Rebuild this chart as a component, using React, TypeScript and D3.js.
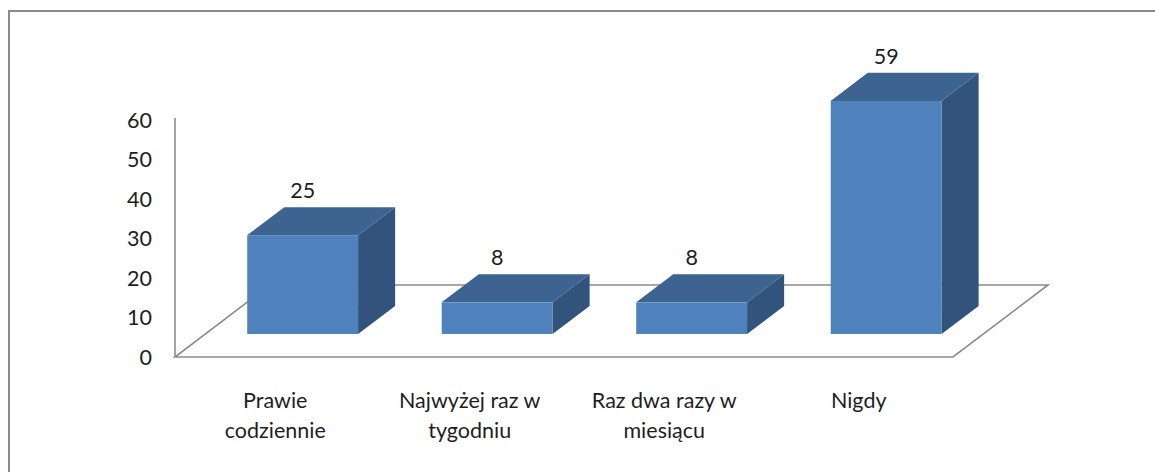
import React, { useEffect, useRef } from 'react';
import * as d3 from 'd3';

const categories = ['Prawie codziennie', 'Najwyżej raz w tygodniu', 'Raz dwa razy w miesiącu', 'Nigdy'];
const categoryLines = [['Prawie', 'codziennie'], ['Najwyżej raz w', 'tygodniu'], ['Raz dwa razy w', 'miesiącu'], ['Nigdy']];
const values = [25, 8, 8, 59];
const yTicks = [0, 10, 20, 30, 40, 50, 60];

const App: React.FC = () => {
    const chartRef = useRef<SVGSVGElement>(null);

    useEffect(() => {
        const width = 1155;
        const height = 472;
        const font = 'Lato, "Open Sans", sans-serif';
        const fontSize = 21.5;

        // floor geometry (front edge + depth offset)
        const x0 = 175;
        const x1 = 953;
        const floorY = 357;
        const depthX = 95;
        const depthY = -72;
        // bar sits between these depth fractions
        const dFront = 0.32;
        const dBack = 0.71;

        const svg = d3.select(chartRef.current);
        svg.selectAll('*').remove();
        svg.attr('width', width).attr('height', height);

        const x = d3.scaleBand<string>()
            .domain(categories)
            .range([x0, x1])
            .paddingInner(0.43)
            .paddingOuter(0.215);

        const y = d3.scaleLinear().domain([0, 60]).range([floorY, 120]);

        // outer frame
        svg.append('rect')
            .attr('x', 9).attr('y', 11)
            .attr('width', 1300).attr('height', 600)
            .attr('fill', 'white')
            .attr('stroke', '#8a8a8a')
            .attr('stroke-width', 2);

        // floor
        const floor = d3.path();
        floor.moveTo(x0, floorY);
        floor.lineTo(x1, floorY);
        floor.lineTo(x1 + depthX, floorY + depthY);
        floor.lineTo(x0 + depthX, floorY + depthY);
        floor.closePath();
        svg.append('path')
            .attr('d', floor.toString())
            .attr('fill', 'none')
            .attr('stroke', '#8c8c8c')
            .attr('stroke-width', 1.6);

        // vertical axis
        svg.append('line')
            .attr('x1', x0).attr('x2', x0)
            .attr('y1', y(0)).attr('y2', y(60) - 2)
            .attr('stroke', '#8c8c8c')
            .attr('stroke-width', 1.6);

        svg.append('g')
            .selectAll('text')
            .data(yTicks)
            .enter()
            .append('text')
            .attr('x', 152)
            .attr('y', d => y(d))
            .attr('dy', '0.35em')
            .attr('text-anchor', 'end')
            .attr('font-family', font)
            .attr('font-size', fontSize)
            .attr('fill', '#1e1e1e')
            .text(d => d);

        // bars
        const fx = dFront * depthX;
        const fy = dFront * depthY;
        const bx = (dBack - dFront) * depthX;
        const by = (dBack - dFront) * depthY;
        const bars = svg.append('g');

        categories.forEach((c, i) => {
            const left = (x(c) as number) + fx;
            const right = left + x.bandwidth();
            const bottom = y(0) + fy;
            const top = y(values[i]) + fy;

            const topFace = [[left, top], [left + bx, top + by], [right + bx, top + by], [right, top]];
            const sideFace = [[right, top], [right + bx, top + by], [right + bx, bottom + by], [right, bottom]];

            bars.append('polygon')
                .attr('points', sideFace.map(p => p.join(',')).join(' '))
                .attr('fill', '#32537b');
            bars.append('polygon')
                .attr('points', topFace.map(p => p.join(',')).join(' '))
                .attr('fill', '#3d6390');
            bars.append('rect')
                .attr('x', left).attr('y', top)
                .attr('width', x.bandwidth())
                .attr('height', bottom - top)
                .attr('fill', '#4f81bd');

            bars.append('text')
                .attr('x', left + x.bandwidth() / 2)
                .attr('y', top + by - 9)
                .attr('text-anchor', 'middle')
                .attr('font-family', font)
                .attr('font-size', fontSize)
                .attr('fill', '#1e1e1e')
                .text(values[i]);
        });

        // category labels
        categories.forEach((c, i) => {
            const cx = (x(c) as number) + x.bandwidth() / 2 + 3;
            const t = svg.append('text')
                .attr('x', cx)
                .attr('y', 408)
                .attr('text-anchor', 'middle')
                .attr('font-family', font)
                .attr('font-size', fontSize)
                .attr('fill', '#1e1e1e');
            categoryLines[i].forEach((line, j) => {
                t.append('tspan')
                    .attr('x', cx)
                    .attr('dy', j === 0 ? 0 : 30)
                    .text(line);
            });
        });
    }, []);

    return (
        <div style={{ position: 'absolute', left: 0, top: 0 }}>
            <svg ref={chartRef}></svg>
        </div>
    );
};

export default App;
